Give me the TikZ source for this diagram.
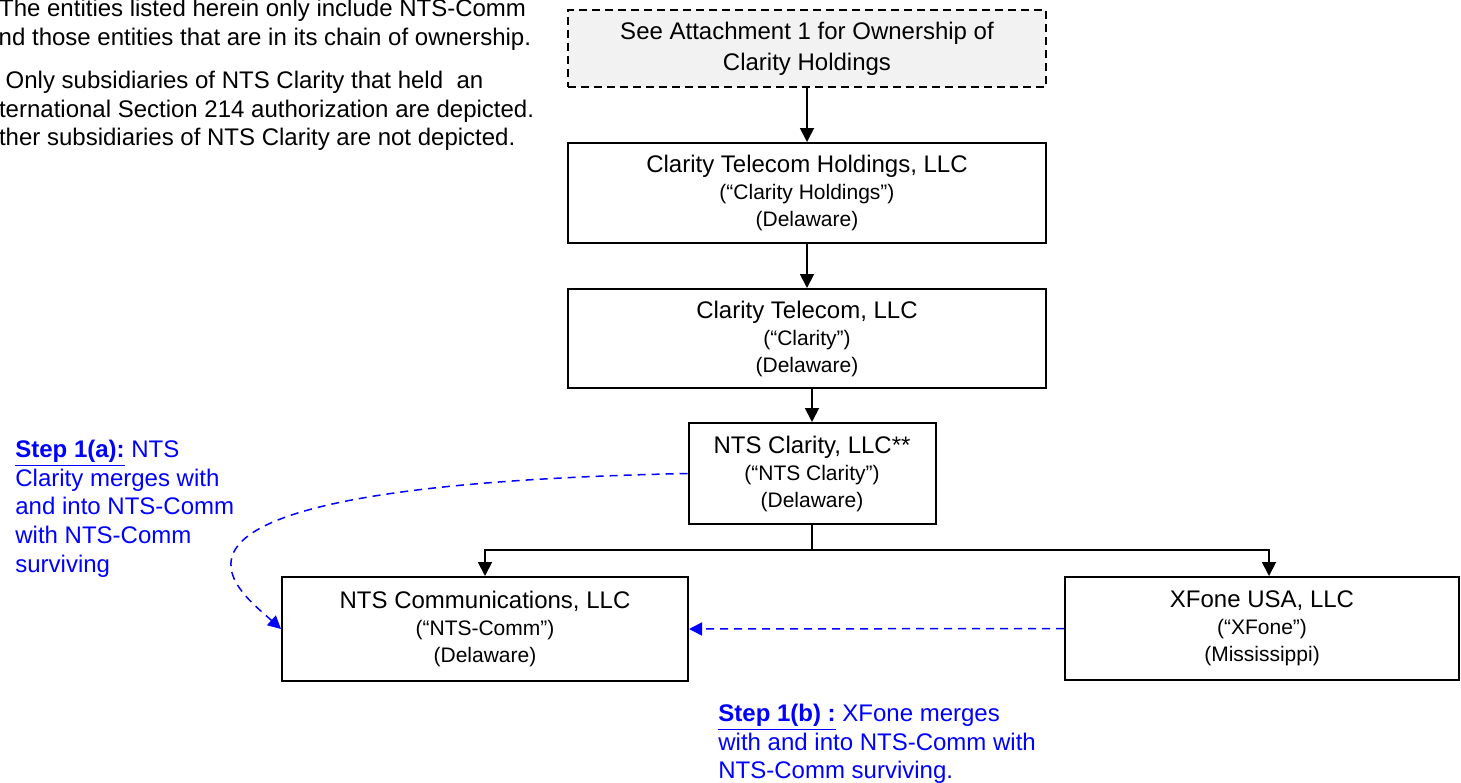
\documentclass[tikz,border=0pt]{standalone}
\usepackage{fontspec}
\setmainfont{Liberation Sans}
\usetikzlibrary{arrows.meta}
\definecolor{notegray}{RGB}{242,242,242}
\newcommand{\entname}[1]{{\fontsize{12}{13.5}\selectfont #1}}

\begin{document}
\begin{tikzpicture}[x=0.5pt,y=-0.5pt,
  entity/.style={draw, line width=1pt, align=center, inner sep=0pt, font=\fontsize{10.5}{13.5}\selectfont},
  owns/.style={line width=0.9pt, -{Triangle[width=7pt,length=7pt]}},
  merge/.style={blue, line width=0.75pt, dash pattern=on 4pt off 3pt, -{Triangle[width=6.5pt,length=6.5pt]}},
  note/.style={anchor=north west, align=left, inner sep=0pt, font=\fontsize{12}{14.35}\selectfont},
  steplabel/.style={note, text=blue}]
\clip (0,0) rectangle (1461,782);
\node[note] (note1) at (-15,-1) {*\kern2.2pt The entities listed herein only include NTS-Comm\\and those entities that are in its chain of ownership.};
\node[note] (note2) at (-20,70.8) {** Only subsidiaries of NTS Clarity that held\ \ an\\international Section 214 authorization are depicted.\\Other subsidiaries of NTS Clarity are not depicted.};
\node[entity, fill=notegray, dash pattern=on 4pt off 2.5pt, minimum width=239pt, minimum height=38.5pt, font=\fontsize{12}{15.5}\selectfont] (attach) at (807,48.5) {See Attachment 1 for Ownership of\\Clarity Holdings};
\node[entity, minimum width=239pt, minimum height=50pt] (holdings) at (807,193) {\entname{Clarity Telecom Holdings, LLC}\\(“Clarity Holdings”)\\(Delaware)};
\node[entity, minimum width=239pt, minimum height=49.5pt] (telecom) at (807,338.5) {\entname{Clarity Telecom, LLC}\\(“Clarity”)\\(Delaware)};
\node[entity, minimum width=123.5pt, minimum height=50.5pt] (ntsclarity) at (812,473.5) {\entname{NTS Clarity, LLC**}\\(“NTS Clarity”)\\(Delaware)};
\node[entity, minimum width=203pt, minimum height=52pt] (ntscomm) at (485,629) {\entname{NTS Communications, LLC}\\(“NTS-Comm”)\\(Delaware)};
\node[entity, minimum width=197pt, minimum height=51.5pt] (xfone) at (1262,628.5) {\entname{XFone USA, LLC}\\(“XFone”)\\(Mississippi)};
\node[steplabel] (step1a) at (15,439.5) {\underline{\textbf{Step 1(a):}} NTS\\Clarity merges with\\and into NTS-Comm\\with NTS-Comm\\surviving};
\node[steplabel] (step1b) at (718,703.5) {\underline{\textbf{Step 1(b) :}} XFone merges\\with and into NTS-Comm with\\NTS-Comm surviving.};
\coordinate (fork) at (812,550);
\draw[owns] (attach) -- (holdings);
\draw[owns] (holdings) -- (telecom);
\draw[owns] (ntsclarity.north |- telecom.south) -- (ntsclarity.north);
\draw[line width=0.9pt] (ntsclarity.south) -- (fork);
\draw[owns] (fork) -| (ntscomm.north);
\draw[owns] (fork) -| ([xshift=3.5pt]xfone.north);
\draw[merge] (xfone.west) -- (ntscomm.east);
\draw[merge] (ntsclarity.west) .. controls (90,486) and (238,590) .. (ntscomm.west);
\end{tikzpicture}
\end{document}
